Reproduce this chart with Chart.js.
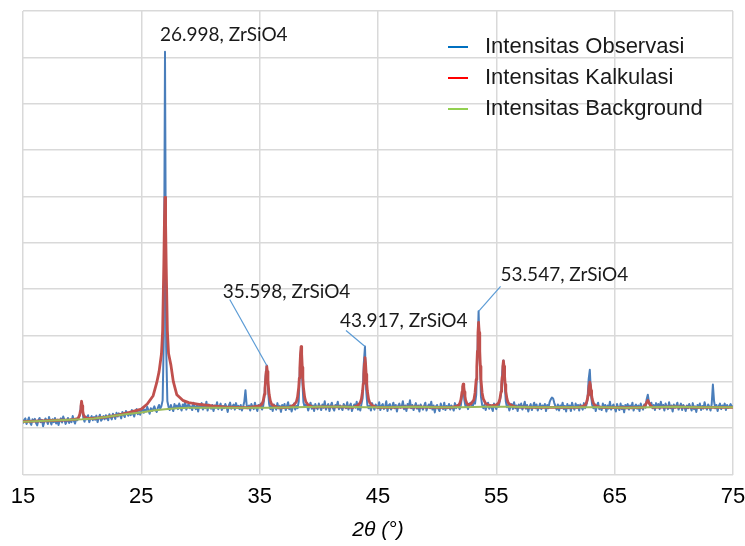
<!DOCTYPE html>
<html>
<head>
<meta charset="utf-8">
<script src="https://cdn.jsdelivr.net/npm/chart.js@4.4.1/dist/chart.umd.min.js"></script>
<style>
  html, body { margin: 0; padding: 0; background: #fff; }
  #wrap { width: 745px; height: 546px; }
</style>
</head>
<body>
<div id="wrap"><canvas id="xrd-chart"></canvas></div>
<script>
// observed pattern, 2theta from 15 to 75 in steps of 0.1
var obsStart = 15;
var obsStep = 0.1;
var obsIntensity = [
    110,118,121,109,116,123,112,107,119,115,
    120,111,106,117,122,113,118,104,114,121,
    117,109,124,115,108,119,113,122,110,118,
    107,116,121,112,125,118,109,115,122,111,
    119,113,126,116,110,121,117,124,127,150,
    141,122,114,125,119,128,113,121,126,117,
    124,118,127,113,122,129,116,120,126,119,
    128,121,117,130,124,119,131,126,120,133,
    125,132,128,121,135,129,124,137,131,127,
    134,128,139,131,125,136,141,130,135,129,
    138,144,133,140,136,146,139,131,143,137,
    141,147,139,135,144,150,142,148,160,300,
    912,275,158,146,139,150,143,137,152,145,
    149,141,153,146,138,151,144,157,140,148,
    152,143,147,139,155,146,141,150,136,149,
    145,154,140,148,143,157,138,151,146,142,
    150,137,149,144,156,141,147,153,139,148,
    143,152,146,135,149,155,142,147,151,140,
    154,144,148,141,150,138,146,157,182,150,
    143,149,138,152,146,141,155,144,137,150,
    146,153,140,148,168,212,235,185,152,141,
    149,137,151,145,140,154,143,148,135,150,
    144,152,139,147,156,141,149,136,145,153,
    140,148,143,158,230,272,205,156,146,151,
    150,138,147,155,142,149,137,152,145,141,
    153,146,139,151,144,158,140,147,152,137,
    148,155,143,138,150,146,157,141,149,144,
    139,152,147,143,156,140,148,153,137,146,
    151,144,157,140,148,138,152,165,240,276,
    182,150,143,149,138,154,145,140,151,147,
    143,156,139,148,152,141,146,158,137,149,
    152,140,147,155,143,150,136,148,153,144,
    146,158,141,149,137,152,145,160,143,150,
    139,147,154,142,149,136,151,145,140,148,
    155,138,146,151,143,157,140,149,134,147,
    150,142,137,153,146,141,155,139,148,143,
    152,140,149,145,138,154,143,150,147,141,
    149,170,192,160,146,152,141,148,155,150,
    146,158,153,172,258,352,262,168,150,143,
    151,139,148,155,142,150,144,137,153,147,
    141,152,146,160,174,222,246,198,158,145,
    150,138,147,152,141,156,143,149,137,151,
    144,153,140,148,157,142,150,136,146,152,
    139,147,155,143,151,138,146,153,141,149,
    145,152,137,150,143,156,162,166,164,154,
    147,140,151,138,149,144,155,141,148,136,
    152,143,149,137,155,146,140,153,144,150,
    138,151,145,140,154,143,149,160,205,226,
    172,150,143,152,137,148,155,141,146,139,
    153,144,150,136,149,142,157,140,147,151,
    143,136,152,145,139,153,141,148,134,150,
    146,152,140,149,143,155,138,147,151,142,
    149,137,153,145,140,151,144,162,172,156,
    148,155,143,150,139,154,146,152,141,157,
    145,150,138,153,147,141,156,143,149,136,
    151,144,148,155,140,147,153,139,150,145,
    137,149,143,152,146,138,154,141,147,135,
    150,144,153,139,148,142,156,145,140,151,
    146,138,152,194,158,143,150,137,148,153,
    141,149,145,153,139,150,144,147,152,146,
    148
];

// calculated (fitted) pattern, [2theta, intensity]
var calcPoints = [
    [15,114],[16,115],[17,116],[18,117],[19,118],[19.6,120],[19.7,123],[19.8,130],[19.85,137],[19.9,148],
    [19.95,158],[20,148],[20.05,137],[20.1,130],[20.2,124],[20.4,121],[21,121],[22,124],[23,128],[24,134],
    [25,141],[25.5,152],[26,170],[26.3,198],[26.5,222],[26.7,260],[26.8,310],[26.9,452],[26.95,543],[27,598],
    [27.05,543],[27.1,452],[27.2,310],[27.3,261],[27.5,236],[27.7,201],[28,172],[28.5,160],[29,155],[30,151],
    [31,148],[32,146],[33,145],[34,144],[35,148],[35.2,152],[35.3,159],[35.4,173],[35.45,187],[35.5,203],
    [35.55,222],[35.6,233],[35.65,222],[35.7,203],[35.75,187],[35.8,173],[35.9,159],[36,152],[36.2,148],[36.6,144],
    [37.5,145],[37.9,150],[38.1,157],[38.2,167],[38.3,188],[38.35,208],[38.4,231],[38.45,260],[38.5,276],[38.55,260],
    [38.6,231],[38.65,208],[38.7,188],[38.8,167],[38.9,157],[39.1,150],[39.5,145],[40,146],[42,146],[42.9,145],
    [43.3,149],[43.5,155],[43.6,163],[43.7,180],[43.75,196],[43.8,216],[43.85,239],[43.9,252],[43.95,239],[44,216],
    [44.05,196],[44.1,180],[44.2,163],[44.3,155],[44.5,149],[44.9,145],[46,145],[48,146],[50,145],[51.2,145],
    [51.6,147],[51.8,149],[51.9,153],[52,161],[52.05,169],[52.1,178],[52.15,189],[52.2,195],[52.25,189],[52.3,178],
    [52.35,169],[52.4,161],[52.5,154],[52.6,151],[52.85,152],[53.1,161],[53.2,176],[53.3,205],[53.35,233],[53.4,266],
    [53.45,306],[53.5,328],[53.55,306],[53.6,266],[53.65,233],[53.7,205],[53.8,176],[53.9,163],[54.1,153],[54.5,148],
    [55,150],[55.2,155],[55.3,163],[55.4,179],[55.45,194],[55.5,211],[55.55,233],[55.6,245],[55.65,233],[55.7,211],
    [55.75,194],[55.8,179],[55.9,163],[56,155],[56.2,150],[56.6,146],[58,145],[60,145],[61.9,145],[62.3,147],
    [62.5,150],[62.6,154],[62.7,163],[62.75,171],[62.8,181],[62.85,193],[62.9,199],[62.95,193],[63,181],[63.05,171],
    [63.1,163],[63.2,154],[63.3,150],[63.5,147],[63.9,145],[66,144],[67.4,145],[67.6,150],[67.7,155],[67.8,160],
    [67.9,155],[68,150],[68.2,145],[70,146],[72,145],[75,145]
];

// background, [2theta, intensity]
var bgPoints = [
    [15,114],[16,115],[17,116],[18,117],[19,118],[20,119],[21,121],[22,124],[23,128],[24,131],
    [25,134],[26,138],[27,141],[28,143],[29,144],[30,144],[32,144],[34,144],[36,144],[38,145],
    [40,146],[42,146],[44,145],[46,145],[48,146],[50,145],[52,145],[54,146],[56,146],[58,145],
    [60,145],[62,145],[64,145],[66,144],[68,145],[70,146],[72,145],[75,145]
];

var seriesNames = ['Intensitas Observasi', 'Intensitas Kalkulasi', 'Intensitas Background'];
var xTicks = [15, 25, 35, 45, 55, 65, 75];

// labelled peaks
var peakAngles = [26.998, 35.598, 43.917, 53.547];
var peakPhases = ['ZrSiO4', 'ZrSiO4', 'ZrSiO4', 'ZrSiO4'];

// label placement relative to the peak top, in pixels
var labelOffsets = [
    { dx: -5, dy: -17, lead: false },
    { dx: -44, dy: -74, lead: true, lx: -37, ly: -66 },
    { dx: -25, dy: -26, lead: true, lx: -19, ly: -16 },
    { dx: 22, dy: -36, lead: true, lx: 22, ly: -25 }
];
var legendColors = ['#0070c0', '#ff0000', '#92d050'];

var obsData = obsIntensity.map(function(v, i) {
    return { x: +(obsStart + i * obsStep).toFixed(2), y: v };
});
var calcData = calcPoints.map(function(p) { return { x: p[0], y: p[1] }; });
var bgData = bgPoints.map(function(p) { return { x: p[0], y: p[1] }; });

var peakLabels = {
    id: 'peakLabels',
    afterDatasetsDraw: function(chart) {
        var ctx = chart.ctx;
        var xs = chart.scales.x, ys = chart.scales.y;
        ctx.save();
        ctx.font = '19px Lato, "Open Sans", sans-serif';
        ctx.fillStyle = '#1a1a1a';
        ctx.textBaseline = 'middle';
        ctx.textAlign = 'left';
        peakAngles.forEach(function(a, k) {
            // peak top = highest observed point near the labelled angle
            var top = null;
            obsData.forEach(function(p) {
                if (Math.abs(p.x - a) <= 0.15 && (!top || p.y > top.y)) top = p;
            });
            var px = xs.getPixelForValue(top.x);
            var py = ys.getPixelForValue(top.y);
            var o = labelOffsets[k];
            if (o.lead) {
                ctx.strokeStyle = '#5b9bd5';
                ctx.lineWidth = 1.2;
                ctx.beginPath();
                ctx.moveTo(px + o.lx, py + o.ly);
                ctx.lineTo(px, py);
                ctx.stroke();
            }
            ctx.fillText(a.toFixed(3) + ', ' + peakPhases[k], px + o.dx, py + o.dy);
        });
        ctx.restore();
    }
};

var insideLegend = {
    id: 'insideLegend',
    afterDraw: function(chart) {
        var ctx = chart.ctx;
        var area = chart.chartArea;
        ctx.save();
        ctx.font = '22px "Liberation Sans", Arial, sans-serif';
        ctx.textBaseline = 'middle';
        ctx.fillStyle = '#1a1a1a';
        seriesNames.forEach(function(name, i) {
            var y = area.top + 36 + i * 31;
            ctx.strokeStyle = legendColors[i];
            ctx.lineWidth = 2;
            ctx.beginPath();
            ctx.moveTo(area.right - 285, y);
            ctx.lineTo(area.right - 265, y);
            ctx.stroke();
            ctx.fillText(name, area.right - 248, y);
        });
        ctx.restore();
    }
};

document.addEventListener("DOMContentLoaded", function() {
    var ctx = document.getElementById('xrd-chart').getContext('2d');
    var xrdChart = new Chart(ctx, {
        type: 'line',
        data: {
            datasets: [{
                label: seriesNames[0],
                data: obsData,
                borderColor: '#4a7ebb',
                borderWidth: 2,
                order: 2
            }, {
                label: seriesNames[1],
                data: calcData,
                borderColor: '#c0504d',
                borderWidth: 2.8,
                order: 1
            }, {
                label: seriesNames[2],
                data: bgData,
                borderColor: '#9bbb59',
                borderWidth: 2,
                order: 0
            }]
        },
        options: {
            responsive: true,
            maintainAspectRatio: false,
            animation: false,
            elements: {
                point: { radius: 0 },
                line: { tension: 0, fill: false, borderJoinStyle: 'round' }
            },
            layout: {
                padding: { left: 23, right: 12, top: 11, bottom: 0 }
            },
            plugins: {
                legend: { display: false },
                tooltip: { enabled: false }
            },
            scales: {
                x: {
                    type: 'linear',
                    min: 15,
                    max: 75,
                    afterBuildTicks: function(scale) {
                        scale.ticks = xTicks.map(function(v) { return { value: v }; });
                    },
                    afterFit: function(scale) {
                        scale.paddingLeft = 0;
                        scale.paddingRight = 0;
                    },
                    ticks: {
                        padding: 9,
                        maxRotation: 0,
                        color: '#000',
                        font: { family: '"Liberation Sans", Arial', size: 22 }
                    },
                    grid: { color: '#d9d9d9', lineWidth: 1.5, drawTicks: false },
                    border: { display: false },
                    title: {
                        display: true,
                        text: '2\u03b8 (\u00b0)',
                        color: '#000',
                        padding: { top: 0, bottom: 4 },
                        font: { family: '"Liberation Sans", Arial', size: 21, style: 'italic', lineHeight: 1.1 }
                    }
                },
                y: {
                    min: 0,
                    max: 1000,
                    ticks: { display: false, stepSize: 100 },
                    grid: { color: '#d9d9d9', lineWidth: 1.5, drawTicks: false },
                    border: { display: false },
                    afterFit: function(scale) { scale.width = 0; }
                }
            }
        },
        plugins: [peakLabels, insideLegend]
    });
});
</script>
</body>
</html>
